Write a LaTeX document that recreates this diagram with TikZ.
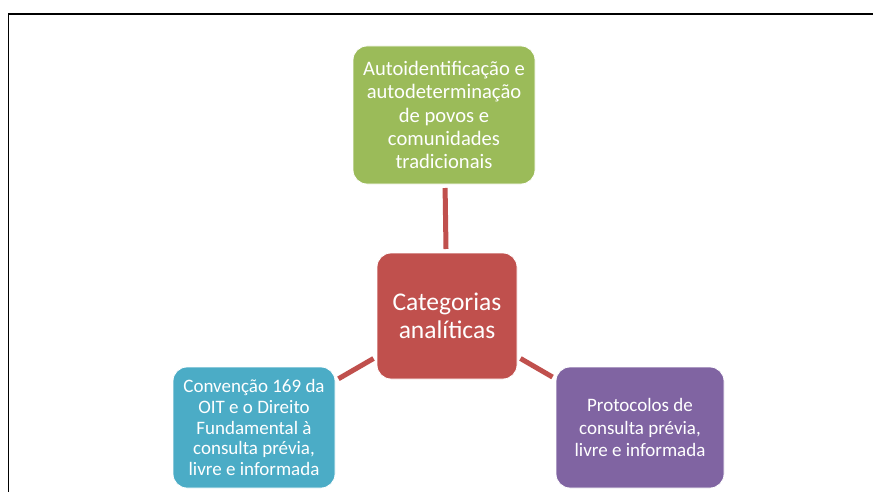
\documentclass[tikz,border=0pt]{standalone}
\usepackage{fontspec}
\setmainfont{Carlito}
\definecolor{sgreen}{HTML}{9BBB59}
\definecolor{sred}{HTML}{C0504D}
\definecolor{sblue}{HTML}{4BACC6}
\definecolor{spurple}{HTML}{8064A2}
\tikzset{
  box/.style={draw=white, line width=0.8pt, rounded corners=14pt, text=white,
    align=center, inner sep=0pt, outer sep=0pt,
    font=\fontsize{19}{23}\selectfont},
  conn/.style={draw=sred, line width=5pt, shorten <=4pt, shorten >=4pt},
  frame/.style={draw=black, line width=1.6pt}
}
\begin{document}
\begin{tikzpicture}[x=1pt,y=-1pt]
\useasboundingbox (0,0) rectangle (873,492);
\draw[frame] (8.5,492) -- (8.5,14) -- (873,14);
\node[box, fill=sgreen, minimum width=182pt, minimum height=138pt,
  font=\fontsize{20.6}{23.3}\selectfont] (top) at (444,115)
  {Autoidentificação e\\autodeterminação\\de povos e\\comunidades\\tradicionais};
\node[box, fill=sred, minimum width=140pt, minimum height=126pt,
  font=\fontsize{25.5}{28.5}\selectfont] (center) at (447,316)
  {Categorias\\analíticas};
\node[box, fill=sblue, minimum width=162pt, minimum height=121pt,
  font=\fontsize{19}{20.8}\selectfont] (left) at (254,427.5)
  {Convenção 169 da\\OIT e o Direito\\Fundamental à\\consulta prévia,\\livre e informada};
\node[box, fill=spurple, minimum width=168pt, minimum height=121pt,
  font=\fontsize{19}{22.5}\selectfont] (right) at (640,427.5)
  {Protocolos de\\consulta prévia,\\livre e informada};
\draw[conn] (center) -- (top);
\draw[conn] (center) -- (left);
\draw[conn] (center) -- (right);
\end{tikzpicture}
\end{document}
